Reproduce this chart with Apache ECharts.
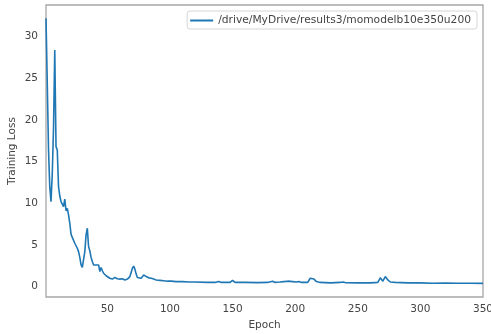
<!DOCTYPE html>
<html>
<head>
<meta charset="utf-8">
<script src="https://cdn.jsdelivr.net/npm/echarts@6/dist/echarts.min.js"></script>
<style>
  html, body { margin: 0; padding: 0; background: #fff; }
  #LossChart { width: 491px; height: 334px; }
</style>
</head>
<body>
<div id="LossChart"></div>
<script>
// series name (legend)
const seriesName = '/drive/MyDrive/results3/momodelb10e350u200';

// epochs (denser where the curve moves)
const epochs = [
  1, 2, 3, 4, 5, 6, 7, 8, 9, 10,
  11, 12, 13, 14, 15, 16, 17, 18, 19, 20,
  21, 22, 23, 24, 25, 26, 27, 28, 29, 30,
  31, 32, 33, 34, 35, 36, 37, 38, 39, 40,
  41, 42, 43, 44, 45, 46, 47, 48, 49, 50,
  52, 54, 56, 58, 60, 62, 64, 66, 68, 69,
  70, 71, 72, 73, 74, 75, 77, 79, 81, 83,
  85, 87, 89, 92, 95, 98, 101, 105, 110, 115,
  120, 130, 136, 139, 141, 148, 150, 152, 160, 170,
  178, 182, 184, 188, 191, 194, 198, 201, 203, 205,
  210, 212, 213, 215, 217, 220, 228, 236, 238, 240,
  250, 260, 266, 268, 270, 272, 274, 276, 280, 290,
  300, 310, 320, 330, 340, 350
];
// training loss at those epochs
const loss = [
  32.2, 24.5, 16.5, 12.0, 10.2, 13.5, 19.0, 28.4, 16.8, 16.4,
  12.0, 10.9, 10.2, 9.9, 9.6, 10.5, 9.1, 9.4, 8.6, 7.6,
  6.3, 5.9, 5.8, 5.2, 5.3, 4.6, 4.2, 3.5, 2.6, 2.3,
  2.5, 4.2, 6.2, 7.0, 4.8, 4.3, 3.5, 3.0, 2.6, 2.5,
  2.6, 2.4, 2.6, 1.8, 2.3, 1.9, 1.6, 1.4, 1.3, 1.2,
  1.0, 0.9, 1.1, 0.95, 0.9, 0.95, 0.8, 0.9, 1.2, 1.7,
  2.2, 2.45, 2.1, 1.5, 1.1, 0.9, 1.0, 1.4, 1.2, 1.05,
  1.0, 0.9, 0.8, 0.75, 0.7, 0.65, 0.65, 0.6, 0.6, 0.55,
  0.55, 0.5, 0.5, 0.6, 0.5, 0.5, 0.75, 0.5, 0.5, 0.48,
  0.5, 0.65, 0.5, 0.55, 0.6, 0.65, 0.6, 0.55, 0.6, 0.5,
  0.5, 1.0, 1.2, 0.9, 0.6, 0.5, 0.45, 0.5, 0.55, 0.48,
  0.45, 0.45, 0.5, 1.05, 0.65, 1.2, 0.8, 0.55, 0.5, 0.45,
  0.45, 0.4, 0.42, 0.4, 0.4, 0.38
];

// tick labels
const xTicks = [50, 100, 150, 200, 250, 300, 350];
const yTicks = [0, 5, 10, 15, 20, 25, 30];

const textColor = '#444';
const spineColor = '#a6a6a6';

const chart = echarts.init(document.getElementById('LossChart'));
const points = [];
for (let i = 0; i < epochs.length; i++) {
  points.push([epochs[i], loss[i]]);
}

const options = {
  animation: false,
  textStyle: { fontFamily: 'DejaVu Sans' },
  grid: {
    left: 46,
    right: 8,
    top: 5,
    bottom: 37,
    outerBoundsMode: 'none',
    show: true,
    borderColor: spineColor,
    borderWidth: 1.3,
    backgroundColor: '#fff'
  },
  legend: {
    right: 14,
    top: 11,
    padding: [4, 6, 3, 3],
    icon: 'rect',
    itemWidth: 23,
    itemHeight: 2,
    itemGap: 5,
    borderColor: '#d6d6d6',
    borderWidth: 1,
    borderRadius: 3,
    backgroundColor: '#fff',
    textStyle: { color: textColor, fontSize: 10.7, fontFamily: 'DejaVu Sans' },
    data: [seriesName]
  },
  xAxis: {
    type: 'value',
    min: 1,
    max: 350,
    name: 'Epoch',
    nameLocation: 'middle',
    nameGap: 23,
    nameMoveOverlap: false,
    nameTextStyle: { color: textColor, fontSize: 10.5 },
    axisLine: { show: false },
    axisTick: { show: false },
    splitLine: { show: false },
    axisLabel: {
      color: textColor,
      fontSize: 10.5,
      margin: 7,
      customValues: xTicks
    }
  },
  yAxis: {
    type: 'value',
    min: -1.25,
    max: 33.8,
    name: 'Training Loss',
    nameLocation: 'middle',
    nameGap: 28,
    nameMoveOverlap: false,
    nameTextStyle: { color: textColor, fontSize: 10.5 },
    axisLine: { show: false },
    axisTick: { show: false },
    splitLine: { show: false },
    axisLabel: {
      color: textColor,
      fontSize: 10.5,
      margin: 8,
      customValues: yTicks
    }
  },
  series: [{
    name: seriesName,
    type: 'line',
    data: points,
    showSymbol: false,
    symbol: 'none',
    lineStyle: { color: '#1f77b4', width: 1.6 },
    itemStyle: { color: '#1f77b4' }
  }]
};
chart.setOption(options, true);
</script>
</body>
</html>
